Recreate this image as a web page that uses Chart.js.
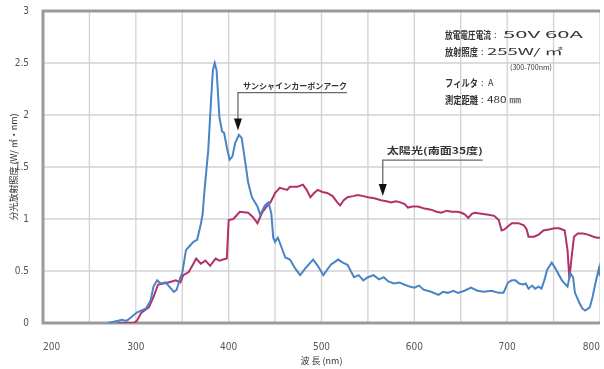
<!DOCTYPE html>
<html lang="ja">
<head>
<meta charset="utf-8">
<title>分光放射照度</title>
<script src="https://cdn.jsdelivr.net/npm/chart.js@4.4.1/dist/chart.umd.min.js"></script>
<style>
    body { margin: 0; background: #fff; }
    canvas { display: block; }
</style>
</head>
<body>
<canvas id="spectrumChart" width="604" height="369"></canvas>
<script>
// Spectral irradiance: sunshine carbon arc vs. sunlight (south, 35 deg)

// sunshine carbon arc (blue)
const arcWavelength = [
    270, 280, 285, 290, 293, 301, 311, 316, 319, 323,
    327, 332, 337, 341, 344, 348, 350, 354, 358, 362,
    366, 370, 372, 374, 378, 381, 383, 385, 387, 390,
    393, 395, 398, 401, 404, 407, 411, 414, 418, 421,
    425, 431, 434, 439, 443, 446, 448, 450, 453, 456,
    461, 466, 472, 477, 483, 491, 496, 502, 510, 518,
    523, 528, 535, 540, 545, 550, 556, 562, 567, 572,
    578, 584, 589, 595, 600, 605, 610, 618, 626, 631,
    636, 642, 647, 654, 661, 668, 675, 683, 691, 696,
    701, 705, 709, 713, 717, 720, 723, 727, 730, 734,
    737, 740, 743, 748, 751, 754, 759, 765, 768, 771,
    773, 778, 781, 784, 789, 792, 795, 799, 800
];
const arcIrradiance = [
    0, 0.02, 0.03, 0.02, 0.04, 0.1, 0.14, 0.22, 0.35, 0.41,
    0.38, 0.39, 0.34, 0.3, 0.32, 0.44, 0.48, 0.7, 0.74, 0.78,
    0.8, 0.95, 1.05, 1.28, 1.66, 2.14, 2.43, 2.5, 2.43, 1.98,
    1.84, 1.83, 1.69, 1.57, 1.6, 1.73, 1.81, 1.78, 1.54, 1.35,
    1.21, 1.12, 1.04, 1.13, 1.16, 1.05, 0.82, 0.78, 0.82, 0.75,
    0.63, 0.61, 0.52, 0.46, 0.53, 0.61, 0.55, 0.46, 0.56, 0.61,
    0.58, 0.56, 0.44, 0.46, 0.41, 0.44, 0.46, 0.42, 0.44, 0.4,
    0.38, 0.39, 0.37, 0.35, 0.34, 0.36, 0.32, 0.3, 0.27, 0.3,
    0.29, 0.31, 0.29, 0.31, 0.34, 0.31, 0.3, 0.31, 0.29, 0.29,
    0.39, 0.41, 0.41, 0.38, 0.37, 0.38, 0.33, 0.36, 0.33, 0.35,
    0.33, 0.41, 0.51, 0.58, 0.54, 0.49, 0.41, 0.35, 0.48, 0.44,
    0.29, 0.19, 0.14, 0.12, 0.15, 0.25, 0.38, 0.53, 0.45
];

// sunlight (red)
const sunWavelength = [
    280, 298, 301, 306, 314, 319, 324, 330, 335, 343,
    348, 351, 357, 362, 365, 370, 375, 380, 386, 390,
    394, 398, 400, 405, 412, 421, 426, 431, 436, 441,
    445, 450, 455, 463, 466, 474, 480, 484, 488, 492,
    496, 501, 506, 512, 517, 520, 524, 528, 534, 539,
    545, 550, 557, 564, 570, 575, 580, 585, 590, 593,
    598, 604, 611, 618, 624, 629, 635, 640, 646, 651,
    655, 658, 662, 665, 672, 680, 686, 691, 694, 697,
    701, 705, 712, 718, 721, 723, 729, 734, 739, 745,
    751, 756, 762, 765, 767, 769, 772, 776, 782, 787,
    793, 797, 800
];
const sunIrradiance = [
    0, 0, 0.02, 0.1, 0.15, 0.25, 0.37, 0.38, 0.39, 0.41,
    0.39, 0.46, 0.49, 0.57, 0.62, 0.57, 0.6, 0.55, 0.62, 0.6,
    0.61, 0.62, 0.99, 1.0, 1.07, 1.06, 1.02, 0.96, 1.06, 1.12,
    1.16, 1.25, 1.3, 1.28, 1.31, 1.31, 1.33, 1.28, 1.21, 1.25,
    1.28, 1.26, 1.25, 1.22, 1.16, 1.13, 1.18, 1.21, 1.22, 1.23,
    1.22, 1.21, 1.2, 1.18, 1.17, 1.16, 1.17, 1.16, 1.14, 1.11,
    1.12, 1.12, 1.1, 1.09, 1.07, 1.06, 1.08, 1.07, 1.07, 1.06,
    1.04, 1.01, 1.05, 1.06, 1.05, 1.04, 1.03, 0.99, 0.89, 0.9,
    0.93, 0.96, 0.96, 0.94, 0.9, 0.83, 0.83, 0.85, 0.89, 0.9,
    0.91, 0.91, 0.89, 0.7, 0.43, 0.6, 0.83, 0.86, 0.86, 0.85,
    0.83, 0.82, 0.82
];

const xTickLabels = [200, 300, 400, 500, 600, 700, 800];
const yTickLabels = [0, 0.5, 1, 1.5, 2, 2.5, 3];
const xGridLines = [250, 300, 350, 400, 450, 500, 550, 600, 650, 700, 750, 800];
const yGridLines = [0.5, 1, 1.5, 2, 2.5];

const arcLabel = 'サンシャインカーボンアーク';
const sunLabel = '太陽光(南面35度)';

const CJK = '"Noto Sans CJK JP", sans-serif';
const NARROW = '"Liberation Sans Narrow", "DejaVu Sans Condensed", sans-serif';

function toPoints(xs, ys) {
    return xs.map((x, i) => ({ x: x, y: ys[i] }));
}

// grid lines as plain line datasets, placed through the chart's own scales
function gridDatasets() {
    const sets = [];
    xGridLines.forEach(v => sets.push({ data: [{ x: v, y: 0 }, { x: v, y: 3 }] }));
    yGridLines.forEach(v => sets.push({ data: [{ x: 200, y: v }, { x: 800, y: v }] }));
    return sets.map(s => Object.assign(s, {
        showLine: true,
        borderColor: '#d2d2d2',
        borderWidth: 1.3,
        pointRadius: 0,
        order: 5
    }));
}

function frameDataset() {
    return {
        data: [{ x: 800, y: 3 }, { x: 200, y: 3 }, { x: 200, y: 0 }, { x: 800, y: 0 }],
        showLine: true,
        borderColor: '#9a9a9a',
        borderWidth: 3,
        pointRadius: 0,
        clip: false,
        order: 4
    };
}

// draw text squeezed/stretched to a given width
function fitText(ctx, text, x, y, width, size, weight) {
    ctx.save();
    ctx.font = (weight || 'normal') + ' ' + size + 'px ' + CJK;
    const w = ctx.measureText(text).width;
    ctx.translate(x, y);
    if (width && w > 0) ctx.scale(width / w, 1);
    ctx.fillText(text, 0, 0);
    ctx.restore();
}

function drawPointer(ctx, tipX, tipY, lineY, lineEnd, dropTo) {
    ctx.save();
    ctx.strokeStyle = '#6a6a6a';
    ctx.lineWidth = 1.3;
    ctx.beginPath();
    ctx.moveTo(lineEnd, lineY);
    ctx.lineTo(tipX, lineY);
    ctx.lineTo(tipX, dropTo);
    ctx.stroke();
    ctx.fillStyle = '#111';
    ctx.beginPath();
    ctx.moveTo(tipX - 4, dropTo - 1);
    ctx.lineTo(tipX + 4, dropTo - 1);
    ctx.lineTo(tipX, tipY);
    ctx.closePath();
    ctx.fill();
    ctx.restore();
}

const annotationPlugin = {
    id: 'spectrumNotes',
    afterDraw(chart) {
        const ctx = chart.ctx;
        const xs = chart.scales.x;
        const ys = chart.scales.y;
        ctx.save();
        ctx.textBaseline = 'middle';
        ctx.textAlign = 'left';

        // measurement conditions
        ctx.fillStyle = '#333';
        fitText(ctx, '放電電圧電流', 445, 35, 46, 10, 'bold');
        fitText(ctx, ':', 494, 35, 0, 9);
        fitText(ctx, '50V 60A', 503, 35, 80, 9);
        fitText(ctx, '放射照度', 445, 52, 33, 10, 'bold');
        fitText(ctx, ':', 481, 52, 0, 9);
        fitText(ctx, '255W/ ㎡', 487, 52, 76, 9);
        fitText(ctx, '(300-700nm)', 510, 67, 42, 7);
        fitText(ctx, 'フィルタ', 445, 83, 33, 10, 'bold');
        fitText(ctx, ':', 481, 83, 0, 9);
        fitText(ctx, 'A', 488, 83, 0, 9);
        fitText(ctx, '測定距離', 445, 100, 33, 10, 'bold');
        fitText(ctx, ':', 481, 100, 0, 9);
        fitText(ctx, '480 ㎜', 487, 100, 34, 9);

        // pointer to the carbon arc curve
        const ax = xs.getPixelForValue(410);
        const ay = ys.getPixelForValue(1.85);
        drawPointer(ctx, ax, ay, ay - 38, ax + 109, ay - 11);
        fitText(ctx, arcLabel, ax + 5, ay - 45, 104, 8, 'bold');

        // pointer to the sunlight curve
        const sx = xs.getPixelForValue(566);
        const sy = ys.getPixelForValue(1.22);
        drawPointer(ctx, sx, sy, sy - 36, sx + 100, sy - 11);
        fitText(ctx, sunLabel, sx + 4, sy - 46, 96, 9, 'bold');

        ctx.restore();
    }
};

document.addEventListener('DOMContentLoaded', function () {
    const ctx = document.getElementById('spectrumChart').getContext('2d');

    const datasets = [
        {
            data: toPoints(arcWavelength, arcIrradiance),
            showLine: true,
            borderColor: '#4a84c6',
            borderWidth: 2,
            pointRadius: 0,
            order: 0
        },
        {
            data: toPoints(sunWavelength, sunIrradiance),
            showLine: true,
            borderColor: '#b3306a',
            borderWidth: 2,
            pointRadius: 0,
            order: 1
        },
        frameDataset()
    ].concat(gridDatasets());

    new Chart(ctx, {
        type: 'scatter',
        data: { datasets: datasets },
        options: {
            responsive: false,
            animation: false,
            devicePixelRatio: 1,
            layout: { padding: { top: 11, right: 4, left: 0, bottom: 0 } },
            plugins: {
                legend: { display: false },
                tooltip: { enabled: false }
            },
            scales: {
                x: {
                    min: 200,
                    max: 800,
                    afterFit: function (scale) {
                        scale.height = 46;
                        scale.paddingLeft = 0;
                        scale.paddingRight = 0;
                    },
                    ticks: {
                        stepSize: 100,
                        autoSkip: false,
                        maxRotation: 0,
                        align: 'inner',
                        padding: 10,
                        color: '#555',
                        font: { family: NARROW, size: 10 },
                        callback: v => xTickLabels.includes(v) ? String(v) : ''
                    },
                    grid: { display: false },
                    border: { display: false },
                    title: {
                        display: true,
                        text: '波 長 (nm)',
                        color: '#333',
                        font: { family: CJK, size: 9 },
                        padding: { top: 0, bottom: 3 }
                    }
                },
                y: {
                    min: 0,
                    max: 3,
                    afterFit: function (scale) {
                        scale.width = 43;
                        scale.paddingTop = 0;
                        scale.paddingBottom = 0;
                    },
                    ticks: {
                        stepSize: 0.5,
                        padding: 6,
                        color: '#555',
                        font: { family: NARROW, size: 10 },
                        callback: v => yTickLabels.includes(v) ? String(v) : ''
                    },
                    grid: { display: false },
                    border: { display: false },
                    title: {
                        display: true,
                        text: '分光放射照度 (W/ ㎡・nm)',
                        color: '#333',
                        font: { family: CJK, size: 9 },
                        padding: { top: 8, bottom: 0 }
                    }
                }
            }
        },
        plugins: [annotationPlugin]
    });
});
</script>
</body>
</html>
